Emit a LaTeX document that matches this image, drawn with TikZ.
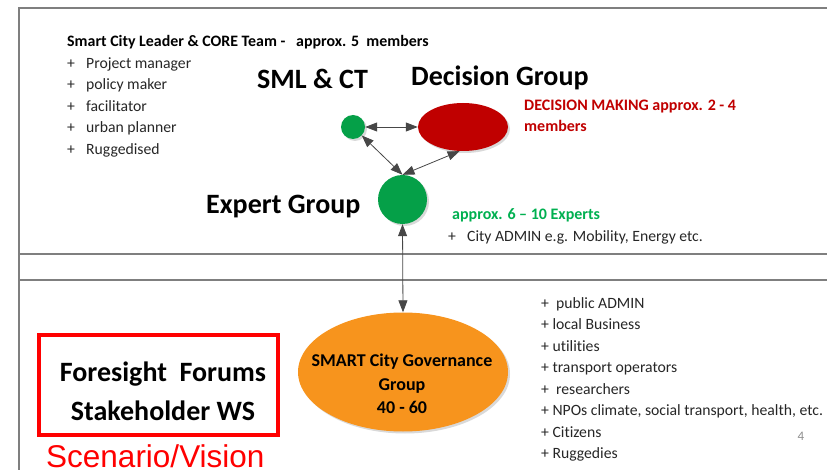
\documentclass[tikz,border=0pt]{standalone}
\usepackage{fontspec}
\setmainfont{Carlito}[Ligatures=NoCommon]
\newfontfamily\arialf{Liberation Sans}
\usetikzlibrary{arrows.meta,shadows,shapes.geometric}
\definecolor{dred}{HTML}{C00000}
\definecolor{egreen}{HTML}{00B050}
\definecolor{cgreen}{HTML}{05A048}
\definecolor{borange}{HTML}{F7941D}
\definecolor{framegray}{HTML}{7F7F7F}
\definecolor{txtgray}{HTML}{262626}
\begin{document}
\begin{tikzpicture}[x=1pt,y=-1pt,
  frameline/.style={draw=framegray,line width=1.3pt},
  conn/.style={draw=black!72,line width=0.8pt,{Triangle[length=12pt,width=9pt]}-{Triangle[length=12pt,width=9pt]}},
  bubble/.style={ellipse,inner sep=0pt,draw=none,drop shadow={opacity=0.25,shadow xshift=2pt,shadow yshift=-2pt,fill=black!60}},
  bigtitle/.style={font=\fontsize{28}{30}\selectfont\bfseries,anchor=base west,inner sep=0pt},
  listtxt/.style={font=\fontsize{15.7}{18}\selectfont,text=txtgray,anchor=base west,inner sep=0pt},
  boldtxt/.style={font=\fontsize{15.9}{18}\selectfont\bfseries,anchor=base west,inner sep=0pt},
]
\useasboundingbox (0,0) rectangle (827,470);
% frame
\draw[frameline] (827,8) -- (19,8) -- (19,470);
\draw[frameline] (19,254) -- (827,254);
\draw[frameline] (19,280) -- (827,280);

% header list
\node[boldtxt] (hdr) at (67,46.7) {Smart City Leader \& CORE Team -\ \ \ approx. 5\ \ members};
\foreach \t [count=\i] in {Project manager,policy maker,facilitator,urban planner,Ruggedised}{
  \node[listtxt] (l\i) at (67,{68.3+21.45*(\i-1)}) {\makebox[19pt][l]{+}\t};
}

% titles
\node[bigtitle] (tsml) at (257,89) {SML \& CT};
\node[bigtitle] (tdec) at (411,86) {Decision Group};
\node[bigtitle] (texp) at (206,213.3) {Expert Group};

% bubbles
\node[bubble,fill=cgreen,minimum width=24pt,minimum height=24pt] (sml) at (353,127) {};
\node[bubble,fill=dred,minimum width=90pt,minimum height=48pt] (dec) at (463,127) {};
\node[bubble,fill=cgreen,minimum width=49pt,minimum height=49pt] (exp) at (402.5,199.5) {};
\node[bubble,fill=borange,minimum width=210pt,minimum height=119pt] (gov) at (403,372) {};
\node[font=\fontsize{18}{23.3}\selectfont\bfseries,align=center,inner sep=0pt,anchor=base] (govt) at (402,413.3)
  {SMART City Governance\\Group\\40 - 60};

% connectors
\draw[conn] (sml) -- (dec);
\draw[conn] (sml) -- (exp.north);
\draw[conn] (exp.north) -- (dec.262);
\draw[conn] (exp.south) -- (gov.north);

% decision text
\node[boldtxt,text=dred,font=\fontsize{16}{18}\selectfont\bfseries] (dm1) at (524,111) {DECISION MAKING approx. 2 - 4};
\node[boldtxt,text=dred,font=\fontsize{16}{18}\selectfont\bfseries] (dm2) at (524,131.7) {members};

% expert text
\node[boldtxt,text=egreen,font=\fontsize{16}{18}\selectfont\bfseries] (ex1) at (452,220) {approx. 6 -- 10 Experts};
\node[listtxt] (ex2) at (448,241.7) {\makebox[19pt][l]{+}City ADMIN e.g. Mobility, Energy etc.};

% right list
\foreach \t [count=\i] in {+\ \ public ADMIN,+ local Business,+ utilities,+ transport operators,+\ \ researchers,{+ NPOs climate, social transport, health, etc.},+ Citizens,+ Ruggedies}{
  \node[listtxt] (r\i) at (541,{308.3+21.5*(\i-1)}) {\t};
}
\node[font=\fontsize{13}{15}\selectfont,text=black!45,anchor=base west,inner sep=0pt] (pg) at (797.5,440.7) {4};

% foresight box
\node[draw=red,line width=4pt,fill=white,minimum width=239pt,minimum height=100pt,inner sep=0pt,
      drop shadow={opacity=0.3,shadow xshift=2pt,shadow yshift=-2pt}] (fb) at (158.5,385) {};
\node[font=\fontsize{28}{39}\selectfont\bfseries,align=center,inner sep=0pt,anchor=base] (fbt) at (163,420.7)
  {Foresight\ \ Forums\\Stakeholder WS};
\node[font=\arialf\fontsize{31.5}{33}\selectfont,text=red,anchor=base west,inner sep=0pt] (scen) at (46,467.5) {Scenario/Vision};
\end{tikzpicture}
\end{document}
